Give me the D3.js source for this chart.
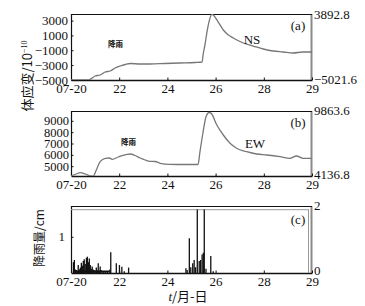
<!DOCTYPE html>
<html><head><meta charset="utf-8">
<script src="https://cdn.jsdelivr.net/npm/d3@7"></script>
<style>
html,body{margin:0;padding:0;background:#fff;}
svg{display:block;}
text{font-family:"Liberation Serif","Times New Roman",serif;fill:#111;}
.cjk{font-family:"Noto Sans CJK SC","Noto Sans",sans-serif;}
</style></head>
<body>
<svg id="c" width="365" height="306"></svg>
<script>
// ---- data ----
const xTickValues = [20, 22, 24, 26, 28, 30];
const xTickLabels = ["07-20", "22", "24", "26", "28", "29"];

const nsTicks = [3000, 1000, -1000, -3000, -5000];
const nsRange = [-5021.6, 3892.8];
const ewTicks = [9000, 8000, 7000, 6000, 5000];
const ewRange = [4136.8, 9863.6];
const rainTicks = [1];
const rainRightLabels = ["2", "0"];

const nsDays = [20.0, 20.72, 20.88, 21.0, 21.21, 21.42, 21.63, 21.83, 22.04, 22.25, 22.46, 22.87, 23.28, 23.90, 24.53, 25.15, 25.44, 25.48, 25.56, 25.64, 25.72, 25.85, 26.11, 26.32, 26.53, 26.73, 27.15, 27.56, 27.98, 28.39, 28.80, 29.21, 29.62, 30.0];
const nsValues = [-5020, -5020, -4750, -4481, -4346, -3941, -3806, -3401, -3131, -2928, -2793, -2861, -2861, -2793, -2726, -2658, -2591, -1650, -250, 1400, 2750, 3850, 2812, 1731, 1056, 651, -24, -430, -835, -1105, -1240, -1375, -1240, -1240];

const ewDays = [20.01, 20.22, 20.39, 20.59, 20.80, 20.92, 21.05, 21.21, 21.42, 21.59, 21.71, 21.96, 22.12, 22.46, 22.66, 22.87, 23.08, 23.28, 23.49, 23.70, 24.11, 24.73, 25.27, 25.35, 25.48, 25.60, 25.73, 25.81, 26.05, 26.32, 26.60, 26.87, 27.29, 27.70, 28.12, 28.67, 29.08, 29.36, 29.63, 29.98];
const ewValues = [4140, 4313, 4428, 4313, 4140, 4100, 4666, 5397, 5696, 5723, 5608, 5811, 5925, 6075, 5943, 5723, 5547, 5432, 5414, 5256, 5168, 5150, 5150, 6251, 8013, 9335, 9731, 9680, 8630, 7749, 7018, 6577, 6278, 6075, 5987, 5838, 5697, 5899, 5697, 5697];

const rainDays = [20.10, 20.14, 20.18, 20.22, 20.26, 20.30, 20.35, 20.39, 20.43, 20.47, 20.51, 20.55, 20.59, 20.64, 20.68, 20.72, 20.76, 20.80, 20.84, 20.88, 20.92, 20.96, 21.00, 21.05, 21.09, 21.13, 21.17, 21.21, 21.25, 21.34, 21.42, 21.51, 21.61, 21.65, 21.88, 22.01, 22.11, 22.21, 22.39,
  24.77, 24.82, 24.91, 24.97, 25.05, 25.11, 25.17, 25.24, 25.32, 25.38, 25.44, 25.49, 25.53, 25.60, 25.80, 25.90];
const rainValues = [0.30, 0.36, 0.10, 0.08, 0.05, 0.22, 0.10, 0.15, 0.28, 0.20, 0.33, 0.38, 0.25, 0.42, 0.45, 0.30, 0.40, 0.22, 0.12, 0.18, 0.10, 0.08, 0.06, 0.15, 0.07, 0.27, 0.06, 0.18, 0.08, 0.05, 0.04, 0.04, 0.10, 0.57, 0.27, 0.22, 0.17, 0.05, 0.15,
  0.13, 0.08, 0.96, 0.16, 0.27, 0.36, 0.16, 1.75, 0.33, 0.36, 0.51, 0.56, 1.75, 0.12, 0.47, 0.05];

// ---- layout ----
const svg = d3.select("#c");
const x = d3.scaleLinear().domain([20, 30]).range([71, 312]);

const panels = [
  {top: 14, bottom: 80, y: d3.scaleLinear().domain(nsRange).range([80, 14])},
  {top: 111, bottom: 176, y: d3.scaleLinear().domain(ewRange).range([176, 111])},
  {top: 206, bottom: 273, y: d3.scaleLinear().domain([0, 1.85]).range([273, 206])}
];

panels.forEach((p, i) => {
  svg.append("clipPath").attr("id", "clip" + i).append("rect")
    .attr("x", 71).attr("y", p.top).attr("width", 241).attr("height", p.bottom - p.top);
});

function frame(p, i) {
  const g = svg.append("g");
  g.append("line").attr("x1", 311.5).attr("x2", 311.5).attr("y1", p.top).attr("y2", p.bottom)
    .attr("stroke", "#8a8a8a").attr("stroke-width", 2);
  g.append("line").attr("x1", 71).attr("x2", 312).attr("y1", p.top + 0.5).attr("y2", p.top + 0.5)
    .attr("stroke", "#111").attr("stroke-width", 1.2);
  g.append("line").attr("x1", 71.5).attr("x2", 71.5).attr("y1", p.top).attr("y2", p.bottom)
    .attr("stroke", "#111").attr("stroke-width", 1.2);
  const ax = d3.axisBottom(x).tickValues(xTickValues)
    .tickFormat((d, k) => xTickLabels[k]).tickSizeInner(-2.5).tickSizeOuter(0).tickPadding(4);
  const ga = svg.append("g").attr("transform", `translate(0,${p.bottom})`).call(ax);
  ga.select(".domain").attr("stroke", "#111").attr("stroke-width", 1.3);
  ga.selectAll(".tick line").attr("stroke", "#111");
  ga.selectAll("text").attr("font-size", 13).attr("font-family", "Liberation Serif, serif").attr("fill", "#111");
}

panels.forEach(frame);

function leftAxis(p, ticks, fmt, pad, fs) {
  const ax = d3.axisLeft(p.y).tickValues(ticks).tickFormat(fmt).tickSizeInner(-2.5).tickSizeOuter(0).tickPadding(pad);
  const g = svg.append("g").attr("transform", "translate(71,0)").call(ax);
  g.select(".domain").remove();
  g.selectAll(".tick line").attr("stroke", "#111");
  g.selectAll("text").attr("font-size", fs).attr("font-family", "Liberation Serif, serif").attr("fill", "#111");
}
const fmtMinus = d => d < 0 ? "\u2212" + Math.abs(d) : String(d);
leftAxis(panels[0], nsTicks, fmtMinus, 3, 13);
leftAxis(panels[1], ewTicks, fmtMinus, 2, 12.5);
leftAxis(panels[2], rainTicks, d => String(d), 6, 13);

function rightLabel(txt, y) {
  svg.append("text").attr("x", 314).attr("y", y).attr("dy", "0.35em").attr("font-size", 13).text(txt);
}
rightLabel("3892.8", 14);
rightLabel("\u22125021.6", 79);
rightLabel("9863.6", 110);
rightLabel("4136.8", 174);
rightLabel(rainRightLabels[0], 205);
rightLabel(rainRightLabels[1], 270);

svg.append("line").attr("x1", 71).attr("x2", 309).attr("y1", 209.7).attr("y2", 209.7).attr("stroke", "#999").attr("stroke-width", 1);
svg.append("line").attr("x1", 308.5).attr("x2", 308.5).attr("y1", 209.7).attr("y2", 273).attr("stroke", "#999").attr("stroke-width", 1);

const nsData = nsDays.map((d, k) => [d, nsValues[k]]);
const ewData = ewDays.map((d, k) => [d, ewValues[k]]);
const lineNS = d3.line().x(d => x(d[0])).y(d => panels[0].y(d[1])).curve(d3.curveMonotoneX);
const lineEW = d3.line().x(d => x(d[0])).y(d => panels[1].y(d[1])).curve(d3.curveMonotoneX);
svg.append("path").attr("d", lineNS(nsData)).attr("clip-path", "url(#clip0)")
  .attr("fill", "none").attr("stroke", "#777").attr("stroke-width", 1.3);
svg.append("path").attr("d", lineEW(ewData)).attr("clip-path", "url(#clip1)")
  .attr("fill", "none").attr("stroke", "#777").attr("stroke-width", 1.3);

svg.append("g").attr("clip-path", "url(#clip2)").selectAll("line")
  .data(rainDays.map((d, k) => [d, rainValues[k]]))
  .join("line")
  .attr("x1", d => x(d[0])).attr("x2", d => x(d[0]))
  .attr("y1", panels[2].y(0)).attr("y2", d => panels[2].y(d[1]))
  .attr("stroke", "#111").attr("stroke-width", 1.3);
svg.append("line").attr("x1", x(20.08)).attr("x2", x(21.6)).attr("y1", 271.5).attr("y2", 271.5)
  .attr("stroke", "#111").attr("stroke-width", 2);

svg.append("text").attr("x", 298).attr("y", 30).attr("text-anchor", "middle").attr("font-size", 13).text("(a)");
svg.append("text").attr("x", 298).attr("y", 127).attr("text-anchor", "middle").attr("font-size", 13).text("(b)");
svg.append("text").attr("x", 298).attr("y", 224).attr("text-anchor", "middle").attr("font-size", 13).text("(c)");
svg.append("text").attr("x", 252).attr("y", 44).attr("text-anchor", "middle").attr("font-size", 13).text("NS");
svg.append("text").attr("x", 255).attr("y", 148).attr("text-anchor", "middle").attr("font-size", 13).text("EW");
svg.append("text").attr("class", "cjk").attr("x", 115.5).attr("y", 47).attr("text-anchor", "middle")
  .attr("font-size", 7.5).attr("font-weight", "bold").text("降雨");
svg.append("text").attr("class", "cjk").attr("x", 128.5).attr("y", 145).attr("text-anchor", "middle")
  .attr("font-size", 7.5).attr("font-weight", "bold").text("降雨");

const t1 = svg.append("text").attr("transform", "translate(32,76) rotate(-90)").attr("text-anchor", "middle")
  .attr("font-size", 13);
t1.append("tspan").attr("class", "cjk").text("体应变/10");
t1.append("tspan").attr("dy", -5).attr("font-size", 8).text("\u221210");

svg.append("text").attr("class", "cjk").attr("transform", "translate(44,238) rotate(-90)")
  .attr("text-anchor", "middle").attr("font-size", 12).text("降雨量/cm");

const xt = svg.append("text").attr("x", 188).attr("y", 301).attr("text-anchor", "middle").attr("font-size", 13);
xt.append("tspan").attr("font-style", "italic").text("t");
xt.append("tspan").attr("class", "cjk").text("/月-日");
</script>
</body></html>
